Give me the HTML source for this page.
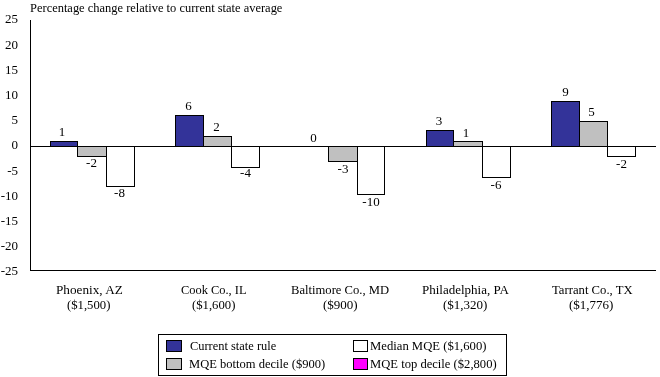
<!DOCTYPE html>
<html><head><meta charset="utf-8"><style>
html,body{margin:0;padding:0;background:#fff;}
svg{display:block;will-change:transform;}
text{font-family:"Liberation Serif",serif;font-size:13px;fill:#000;}
</style></head><body>
<svg width="660" height="377" viewBox="0 0 660 377">
<g shape-rendering="crispEdges">
<path d="M30.5 20 V271 M30 270.5 H656 M30 146.5 H656" stroke="#000" stroke-width="1" fill="none"/>
<rect x="50.5" y="141.5" width="27" height="5" fill="#333399" stroke="#000" stroke-width="1"/>
<rect x="77.5" y="146.5" width="29" height="10" fill="#C0C0C0" stroke="#000" stroke-width="1"/>
<rect x="106.5" y="146.5" width="28" height="40" fill="#FFFFFF" stroke="#000" stroke-width="1"/>
<rect x="175.5" y="115.5" width="28" height="31" fill="#333399" stroke="#000" stroke-width="1"/>
<rect x="203.5" y="136.5" width="28" height="10" fill="#C0C0C0" stroke="#000" stroke-width="1"/>
<rect x="231.5" y="146.5" width="28" height="21" fill="#FFFFFF" stroke="#000" stroke-width="1"/>
<rect x="328.5" y="146.5" width="29" height="15" fill="#C0C0C0" stroke="#000" stroke-width="1"/>
<rect x="357.5" y="146.5" width="27" height="48" fill="#FFFFFF" stroke="#000" stroke-width="1"/>
<rect x="426.5" y="130.5" width="27" height="16" fill="#333399" stroke="#000" stroke-width="1"/>
<rect x="453.5" y="141.5" width="29" height="5" fill="#C0C0C0" stroke="#000" stroke-width="1"/>
<rect x="482.5" y="146.5" width="28" height="31" fill="#FFFFFF" stroke="#000" stroke-width="1"/>
<rect x="551.5" y="101.5" width="28" height="45" fill="#333399" stroke="#000" stroke-width="1"/>
<rect x="579.5" y="121.5" width="28" height="25" fill="#C0C0C0" stroke="#000" stroke-width="1"/>
<rect x="607.5" y="146.5" width="28" height="10" fill="#FFFFFF" stroke="#000" stroke-width="1"/>
<rect x="158.5" y="334.5" width="348" height="41" fill="#fff" stroke="#000"/>
<rect x="166.5" y="340.5" width="15" height="11" fill="#333399" stroke="#000"/>
<rect x="166.5" y="358.5" width="15" height="11" fill="#C0C0C0" stroke="#000"/>
<rect x="353.5" y="340.5" width="14" height="11" fill="#fff" stroke="#000"/>
<rect x="353.5" y="358.5" width="14" height="11" fill="#FF00FF" stroke="#000"/>
</g>
<g>
<text x="62.0" y="136" text-anchor="middle">1</text>
<text x="91.5" y="167" text-anchor="middle">-2</text>
<text x="119.5" y="197" text-anchor="middle">-8</text>
<text x="188.5" y="110" text-anchor="middle">6</text>
<text x="216.5" y="131" text-anchor="middle">2</text>
<text x="245.5" y="177" text-anchor="middle">-4</text>
<text x="313.5" y="142" text-anchor="middle">0</text>
<text x="343.0" y="173" text-anchor="middle">-3</text>
<text x="371.0" y="206" text-anchor="middle">-10</text>
<text x="439.0" y="125" text-anchor="middle">3</text>
<text x="466.0" y="137" text-anchor="middle">1</text>
<text x="496.0" y="189" text-anchor="middle">-6</text>
<text x="565.5" y="96" text-anchor="middle">9</text>
<text x="591.5" y="116" text-anchor="middle">5</text>
<text x="621.5" y="168" text-anchor="middle">-2</text>
<text x="18" y="23" text-anchor="end">25</text>
<text x="18" y="49" text-anchor="end">20</text>
<text x="18" y="74" text-anchor="end">15</text>
<text x="18" y="99" text-anchor="end">10</text>
<text x="18" y="124" text-anchor="end">5</text>
<text x="18" y="149" text-anchor="end">0</text>
<text x="18" y="175" text-anchor="end">-5</text>
<text x="18" y="200" text-anchor="end">-10</text>
<text x="18" y="225" text-anchor="end">-15</text>
<text x="18" y="250" text-anchor="end">-20</text>
<text x="18" y="275" text-anchor="end">-25</text>
<text x="30.04" y="12" textLength="252.36" lengthAdjust="spacingAndGlyphs">Percentage change relative to current state average</text>
<text x="55.98" y="294" textLength="66.78" lengthAdjust="spacingAndGlyphs">Phoenix, AZ</text>
<text x="67.02" y="309" textLength="43.36" lengthAdjust="spacingAndGlyphs">($1,500)</text>
<text x="181.00" y="294" textLength="65.55" lengthAdjust="spacingAndGlyphs">Cook Co., IL</text>
<text x="192.02" y="309" textLength="43.36" lengthAdjust="spacingAndGlyphs">($1,600)</text>
<text x="291.03" y="294" textLength="98.05" lengthAdjust="spacingAndGlyphs">Baltimore Co., MD</text>
<text x="323.00" y="309" textLength="34.67" lengthAdjust="spacingAndGlyphs">($900)</text>
<text x="422.00" y="294" textLength="86.92" lengthAdjust="spacingAndGlyphs">Philadelphia, PA</text>
<text x="443.00" y="309" textLength="44.42" lengthAdjust="spacingAndGlyphs">($1,320)</text>
<text x="552.00" y="294" textLength="80.57" lengthAdjust="spacingAndGlyphs">Tarrant Co., TX</text>
<text x="569.00" y="309" textLength="44.42" lengthAdjust="spacingAndGlyphs">($1,776)</text>
<text x="190.00" y="350" textLength="86.19" lengthAdjust="spacingAndGlyphs">Current state rule</text>
<text x="189.04" y="368" textLength="136.09" lengthAdjust="spacingAndGlyphs">MQE bottom decile ($900)</text>
<text x="370.03" y="350" textLength="116.45" lengthAdjust="spacingAndGlyphs">Median MQE ($1,600)</text>
<text x="370.03" y="368" textLength="126.62" lengthAdjust="spacingAndGlyphs">MQE top decile ($2,800)</text>
</g>
</svg>
</body></html>
